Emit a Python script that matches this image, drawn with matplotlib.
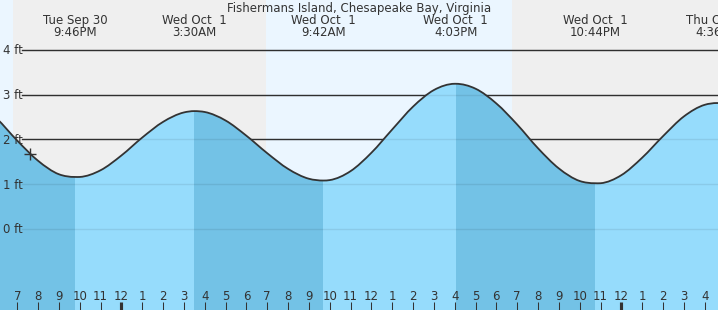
import matplotlib
matplotlib.use("Agg")
import matplotlib.pyplot as plt
from matplotlib.path import Path
from matplotlib.patches import PathPatch
import numpy as np

# hours counted from Tue Sep 30 00:00
title = "Fishermans Island, Chesapeake Bay, Virginia"

# high / low events (time in hours, height in ft) and their labels
event_hours = [15.5, 21.767, 27.5, 33.7, 40.05, 46.733, 52.6]
event_heights = [3.16, 1.16, 2.63, 1.08, 3.24, 1.02, 2.81]
event_dates = [None, "Tue Sep 30", "Wed Oct  1", "Wed Oct  1", "Wed Oct  1", "Wed Oct  1", "Thu Oct  2"]
event_times = [None, "9:46PM", "3:30AM", "9:42AM", "4:03PM", "10:44PM", "4:36AM"]

# hourly heights
hours = list(range(18, 54))
heights = [2.47, 1.97, 1.52, 1.22, 1.16, 1.31, 1.64, 2.04, 2.39, 2.60,
           2.61, 2.42, 2.08, 1.69, 1.34, 1.12, 1.09, 1.29, 1.70, 2.22,
           2.73, 3.10, 3.24, 3.13, 2.80, 2.33, 1.80, 1.35, 1.07, 1.02,
           1.20, 1.59, 2.07, 2.51, 2.77, 2.80]

# sunset / sunrise (hours)
sunset1, sunrise, sunset2 = 18.79, 30.94, 42.75
now_hour, now_height = 19.63, 1.68

ft_levels = [0, 1, 2, 3, 4]
tick_hours = list(range(19, 53))

x0, x1 = 18.17, 52.64
y0, y1 = -1.81, 5.11
fs = 8.5
txt = "#333333"

fig = plt.figure(figsize=(7.18, 3.10), dpi=100)
ax = fig.add_axes([0, 0, 1, 1])
ax.set_xlim(x0, x1)
ax.set_ylim(y0, y1)
ax.axis("off")

day = "#ebf6ff"
night = "#efefef"
ax.axvspan(x0, sunset1, color=day, zorder=0, lw=0)
ax.axvspan(sunset1, sunrise, color=night, zorder=0, lw=0)
ax.axvspan(sunrise, sunset2, color=day, zorder=0, lw=0)
ax.axvspan(sunset2, x1, color=night, zorder=0, lw=0)

# merge hourly readings with the events, smooth with cubic segments
pts = sorted(zip(hours + event_hours, heights + event_heights))
t = np.array([p[0] for p in pts])
h = np.array([p[1] for p in pts])
slope = np.gradient(h, t)
slope[np.isin(t, event_hours)] = 0

verts = [(t[0], h[0])]
codes = [Path.MOVETO]
for i in range(len(t) - 1):
    dt = t[i + 1] - t[i]
    verts += [(t[i] + dt / 3, h[i] + slope[i] * dt / 3),
              (t[i + 1] - dt / 3, h[i + 1] - slope[i + 1] * dt / 3),
              (t[i + 1], h[i + 1])]
    codes += [Path.CURVE4] * 3
curve = Path(verts, codes)
water = Path(verts + [(t[-1], y0), (t[0], y0), (t[0], h[0])],
             codes + [Path.LINETO, Path.LINETO, Path.CLOSEPOLY])

gx0 = x0 + 22 / 718 * (x1 - x0)
for lv in ft_levels:
    ax.plot([gx0, x1], [lv, lv], color=txt, lw=1, zorder=1)
    ax.text(x0 + 3 / 718 * (x1 - x0), lv - 0.1, f"{lv} ft", ha="left", va="baseline",
            fontsize=fs, color=txt, zorder=4)

light = "#96dcfc"
dark = "#73c2e6"
water_patch = PathPatch(water, facecolor=light, lw=0, zorder=2)
ax.add_patch(water_patch)
for i in range(len(event_hours) - 1):
    if event_heights[i] > event_heights[i + 1]:
        span = ax.axvspan(event_hours[i], event_hours[i + 1], color=dark, lw=0, zorder=2.5)
        span.set_clip_path(water_patch)

for lv in ft_levels:
    ax.plot([gx0, x1], [lv, lv], color="#000000", alpha=0.08, lw=1, zorder=3)

ax.add_patch(PathPatch(curve, fill=False, edgecolor=txt, lw=1.3, zorder=5))
ax.plot(now_hour, now_height, marker="+", ms=9, mew=1, color=txt, zorder=6)

tr = ax.get_xaxis_transform()
for eh, d, tm in zip(event_hours, event_dates, event_times):
    if d is None:
        continue
    ax.text(eh, 1 - 24 / 310, d, ha="center", va="baseline", fontsize=fs,
            color=txt, transform=tr)
    ax.text(eh, 1 - 36 / 310, tm, ha="center", va="baseline", fontsize=fs,
            color=txt, transform=tr)

ax.text(0.5, 1 - 12 / 310, title, ha="center", va="baseline", fontsize=fs,
        color=txt, transform=ax.transAxes)

for hr in tick_hours:
    lab = hr % 12 if hr % 12 else 12
    ax.text(hr, 10 / 310, str(lab), ha="center", va="baseline", fontsize=fs,
            color=txt, transform=tr, zorder=6)
    w = 3 if lab == 12 and hr % 24 == 0 else 1
    ax.plot([hr, hr], [0, 8 / 310], color=txt, lw=w * 0.75, transform=tr,
            solid_capstyle="butt", zorder=6)

fig.savefig("out.png", dpi=100)
